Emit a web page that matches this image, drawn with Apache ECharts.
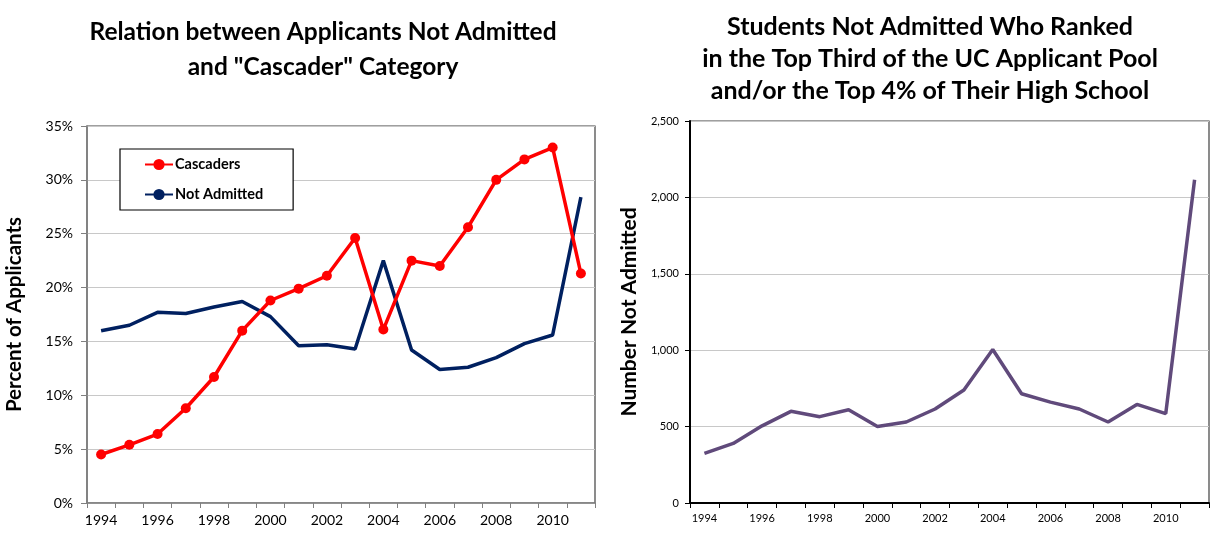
<!DOCTYPE html>
<html>
<head>
<meta charset="utf-8">
<script src="https://cdn.jsdelivr.net/npm/echarts@6/dist/echarts.min.js"></script>
<style>
html,body{margin:0;padding:0;background:#fff;}
#c{width:1211px;height:533px;}
</style>
</head>
<body>
<div id="c"></div>
<script>
const years = ['1994','1995','1996','1997','1998','1999','2000','2001','2002','2003','2004','2005','2006','2007','2008','2009','2010','2011'];
const cascaders = [4.5,5.4,6.4,8.8,11.7,16.0,18.8,19.9,21.1,24.6,16.1,22.5,22.0,25.6,30.0,31.9,33.0,21.3];
const notAdmittedPct = [16.0,16.5,17.7,17.6,18.2,18.7,17.3,14.6,14.7,14.3,22.5,14.2,12.4,12.6,13.5,14.8,15.6,28.4];
const notAdmittedCount = [325,390,505,600,565,610,500,530,615,740,1005,715,660,615,530,645,585,2115];
const leftTitle = 'Relation between Applicants Not Admitted\nand "Cascader" Category';
const rightTitle = 'Students Not Admitted Who Ranked\nin the Top Third of the UC Applicant Pool\nand/or the Top 4% of Their High School';

const FONT = 'Lato';
const chart = echarts.init(document.getElementById('c'), null, {renderer:'canvas'});
chart.setOption({
  animation:false,
  textStyle:{fontFamily:FONT},
  title:[
    {text:leftTitle, left:318, top:10, textAlign:'center',
     textStyle:{fontFamily:FONT, fontWeight:'bold', fontSize:24.5, lineHeight:35, color:'#000'}},
    {text:rightTitle, left:925, top:6, textAlign:'center',
     textStyle:{fontFamily:FONT, fontWeight:'bold', fontSize:25, lineHeight:32, color:'#000'}}
  ],
  legend:{
    data:['Cascaders','Not Admitted'],
    orient:'vertical', left:120, top:149,
    padding:[8,30,8,24],
    itemWidth:28, itemHeight:14, itemGap:15,
    backgroundColor:'#fff', borderColor:'#000', borderWidth:1.2,
    textStyle:{fontFamily:FONT, fontWeight:'bold', fontSize:14.5, color:'#000', padding:[0,0,0,-3]}
  },
  grid:[
    {left:87, top:126, width:508, height:377, show:true, borderColor:'#404040', borderWidth:1.2, backgroundColor:'#fff'},
    {left:690, top:121, width:519, height:382, show:true, borderColor:'#404040', borderWidth:1.2, backgroundColor:'#fff'}
  ],
  xAxis:[
    {type:'category', gridIndex:0, data:years, boundaryGap:true,
     axisLine:{lineStyle:{color:'#808080', width:1.5}},
     axisTick:{show:true, interval:0, length:5, lineStyle:{color:'#808080'}},
     axisLabel:{interval:1, color:'#000', fontSize:14, fontFamily:FONT, margin:10}},
    {type:'category', gridIndex:1, data:years, boundaryGap:true,
     axisLine:{lineStyle:{color:'#000', width:2}},
     axisTick:{show:true, interval:0, length:5, lineStyle:{color:'#000'}},
     axisLabel:{interval:1, color:'#000', fontSize:11, fontFamily:FONT, margin:10}}
  ],
  yAxis:[
    {type:'value', gridIndex:0, min:0, max:35, interval:5,
     name:'Percent of Applicants', nameLocation:'middle', nameGap:62,
     nameTextStyle:{fontFamily:FONT, fontWeight:'bold', fontSize:20.5, color:'#000'},
     axisLine:{show:true, lineStyle:{color:'#808080', width:1.5}},
     axisTick:{show:true, length:6, lineStyle:{color:'#808080'}},
     axisLabel:{formatter:'{value}%', color:'#000', fontSize:14, fontFamily:FONT, margin:14},
     splitLine:{lineStyle:{color:'#c8c8c8', width:1.2}}},
    {type:'value', gridIndex:1, min:0, max:2500, interval:500,
     name:'Number Not Admitted', nameLocation:'middle', nameGap:50,
     nameTextStyle:{fontFamily:FONT, fontWeight:'bold', fontSize:21, color:'#000'},
     axisLine:{show:true, lineStyle:{color:'#000', width:2}},
     axisTick:{show:true, length:5, lineStyle:{color:'#000'}},
     axisLabel:{formatter:function(v){return v.toLocaleString('en-US');}, color:'#000', fontSize:11, fontFamily:FONT, margin:11},
     splitLine:{lineStyle:{color:'#c8c8c8', width:1.2}}}
  ],
  series:[
    {name:'Not Admitted', type:'line', xAxisIndex:0, yAxisIndex:0, data:notAdmittedPct,
     symbol:'none', lineStyle:{color:'#002060', width:3.5}, itemStyle:{color:'#002060'}, z:2},
    {name:'Cascaders', type:'line', xAxisIndex:0, yAxisIndex:0, data:cascaders,
     symbol:'circle', symbolSize:10, lineStyle:{color:'#ff0000', width:3.5}, itemStyle:{color:'#ff0000'}, z:3},
    {name:'Number Not Admitted', type:'line', xAxisIndex:1, yAxisIndex:1, data:notAdmittedCount,
     symbol:'none', lineStyle:{color:'#604a7b', width:3.5}, itemStyle:{color:'#604a7b'}}
  ]
});
</script>
</body>
</html>
